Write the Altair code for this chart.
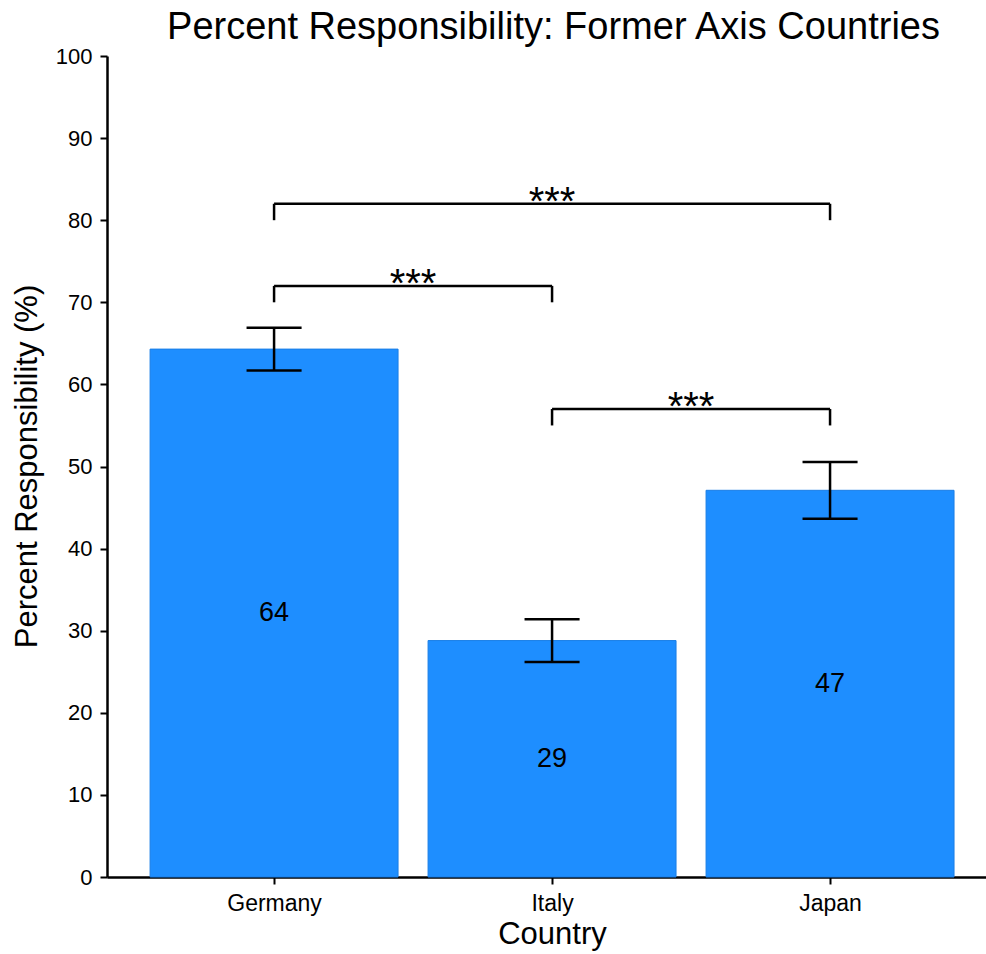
import altair as alt
import pandas as pd

# Mean percent responsibility per country, with standard errors
countries = ["Germany", "Italy", "Japan"]
means = [64.3, 28.8, 47.1]
sems = [2.6, 2.6, 3.45]

# Significance brackets: left bar index, right bar index, bracket height, marker
pair_left = [0, 0, 1]
pair_right = [2, 1, 2]
pair_height = [82, 72, 57]
pair_marks = ["***", "***", "***"]

FONT = "Liberation Sans"
BAR_COLOR = "#1E8EFF"
BAR_HALF = 0.446      # half bar width in category units
CAP_HALF = 0.099      # half error-cap width in category units
DROP = 2.0            # bracket leg length in percent units

bars = pd.DataFrame({
    "country": countries,
    "pos": list(range(len(countries))),
    "mean": means,
    "sem": sems,
})
bars["left"] = bars["pos"] - BAR_HALF
bars["right"] = bars["pos"] + BAR_HALF
bars["half"] = bars["mean"] / 2
bars["label"] = bars["mean"].round().astype(int).astype(str)
bars["lo"] = bars["mean"] - bars["sem"]
bars["hi"] = bars["mean"] + bars["sem"]
bars["cap_l"] = bars["pos"] - CAP_HALF
bars["cap_r"] = bars["pos"] + CAP_HALF

# Error-bar segments: the stem plus top and bottom caps
err_rows = []
for _, r in bars.iterrows():
    err_rows.append({"x": r["pos"], "x2": r["pos"], "y": r["lo"], "y2": r["hi"]})
    err_rows.append({"x": r["cap_l"], "x2": r["cap_r"], "y": r["lo"], "y2": r["lo"]})
    err_rows.append({"x": r["cap_l"], "x2": r["cap_r"], "y": r["hi"], "y2": r["hi"]})
errs = pd.DataFrame(err_rows)

# Bracket segments and star positions
br_rows, star_rows = [], []
for l, r, h, m in zip(pair_left, pair_right, pair_height, pair_marks):
    br_rows.append({"x": l, "x2": r, "y": h, "y2": h})
    br_rows.append({"x": l, "x2": l, "y": h - DROP, "y2": h})
    br_rows.append({"x": r, "x2": r, "y": h - DROP, "y2": h})
    star_rows.append({"x": (l + r) / 2, "y": h, "mark": m})
brackets = pd.DataFrame(br_rows)
stars = pd.DataFrame(star_rows)

label_expr = "[" + ",".join(f"'{c}'" for c in countries) + "][datum.value]"

x_scale = alt.Scale(domain=[-0.601, 2.561], nice=False, zero=False)
y_scale = alt.Scale(domain=[0, 100], nice=False)

x_axis = alt.Axis(
    values=list(range(len(countries))),
    labelExpr=label_expr,
    title="Country",
    grid=False,
    tickSize=7,
    tickWidth=2,
    tickColor="black",
    domainColor="black",
    domainWidth=2.5,
    labelFont=FONT,
    labelFontSize=23,
    labelColor="black",
    labelBaseline="alphabetic",
    labelPadding=26,
    titleFont=FONT,
    titleFontSize=31,
    titleFontWeight="normal",
    titleColor="black",
    titleX=445,
    titleY=66,
    titleBaseline="alphabetic",
)

y_axis = alt.Axis(
    values=list(range(0, 101, 10)),
    title="Percent Responsibility (%)",
    grid=False,
    tickSize=7,
    tickWidth=2,
    tickColor="black",
    domainColor="black",
    domainWidth=2.5,
    labelFont=FONT,
    labelFontSize=22,
    labelColor="black",
    labelPadding=8,
    titleFont=FONT,
    titleFontSize=31,
    titleFontWeight="normal",
    titleColor="black",
    titleX=-71,
    titleY=410,
    titleAngle=-90,
    titleAlign="center",
    titleBaseline="alphabetic",
)

bar_layer = alt.Chart(bars).mark_bar(color=BAR_COLOR, stroke="#1a7ee6", strokeWidth=1).encode(
    x=alt.X("left:Q", scale=x_scale, axis=x_axis),
    x2="right:Q",
    y=alt.Y("mean:Q", scale=y_scale, axis=y_axis),
    y2=alt.datum(0),
)

value_layer = alt.Chart(bars).mark_text(
    font=FONT, fontSize=27, color="black", baseline="middle", align="center"
).encode(x=alt.X("pos:Q", scale=x_scale), y=alt.Y("half:Q", scale=y_scale), text="label:N")

err_layer = alt.Chart(errs).mark_rule(color="black", strokeWidth=2.5).encode(
    x=alt.X("x:Q", scale=x_scale), x2="x2:Q",
    y=alt.Y("y:Q", scale=y_scale), y2="y2:Q",
)

bracket_layer = alt.Chart(brackets).mark_rule(color="black", strokeWidth=2.5).encode(
    x=alt.X("x:Q", scale=x_scale), x2="x2:Q",
    y=alt.Y("y:Q", scale=y_scale), y2="y2:Q",
)

star_layer = alt.Chart(stars).mark_text(
    font=FONT, fontSize=40, color="black", baseline="alphabetic", align="center", dy=11
).encode(x=alt.X("x:Q", scale=x_scale), y=alt.Y("y:Q", scale=y_scale), text="mark:N")

chart = alt.layer(
    bar_layer, err_layer, value_layer, bracket_layer, star_layer
).properties(
    width=879,
    height=821,
    title=alt.TitleParams(
        text="Percent Responsibility: Former Axis Countries",
        font=FONT,
        fontSize=38,
        fontWeight="normal",
        color="black",
        anchor="middle",
        dx=7,
        offset=-2,
    ),
    autosize=alt.AutoSizeParams(type="none"),
    padding={"left": 107, "top": 56, "right": 0, "bottom": 77},
).configure(background="white").configure_view(stroke=None)

chart.save("out.html", embed_options={"renderer": "svg", "actions": False})
